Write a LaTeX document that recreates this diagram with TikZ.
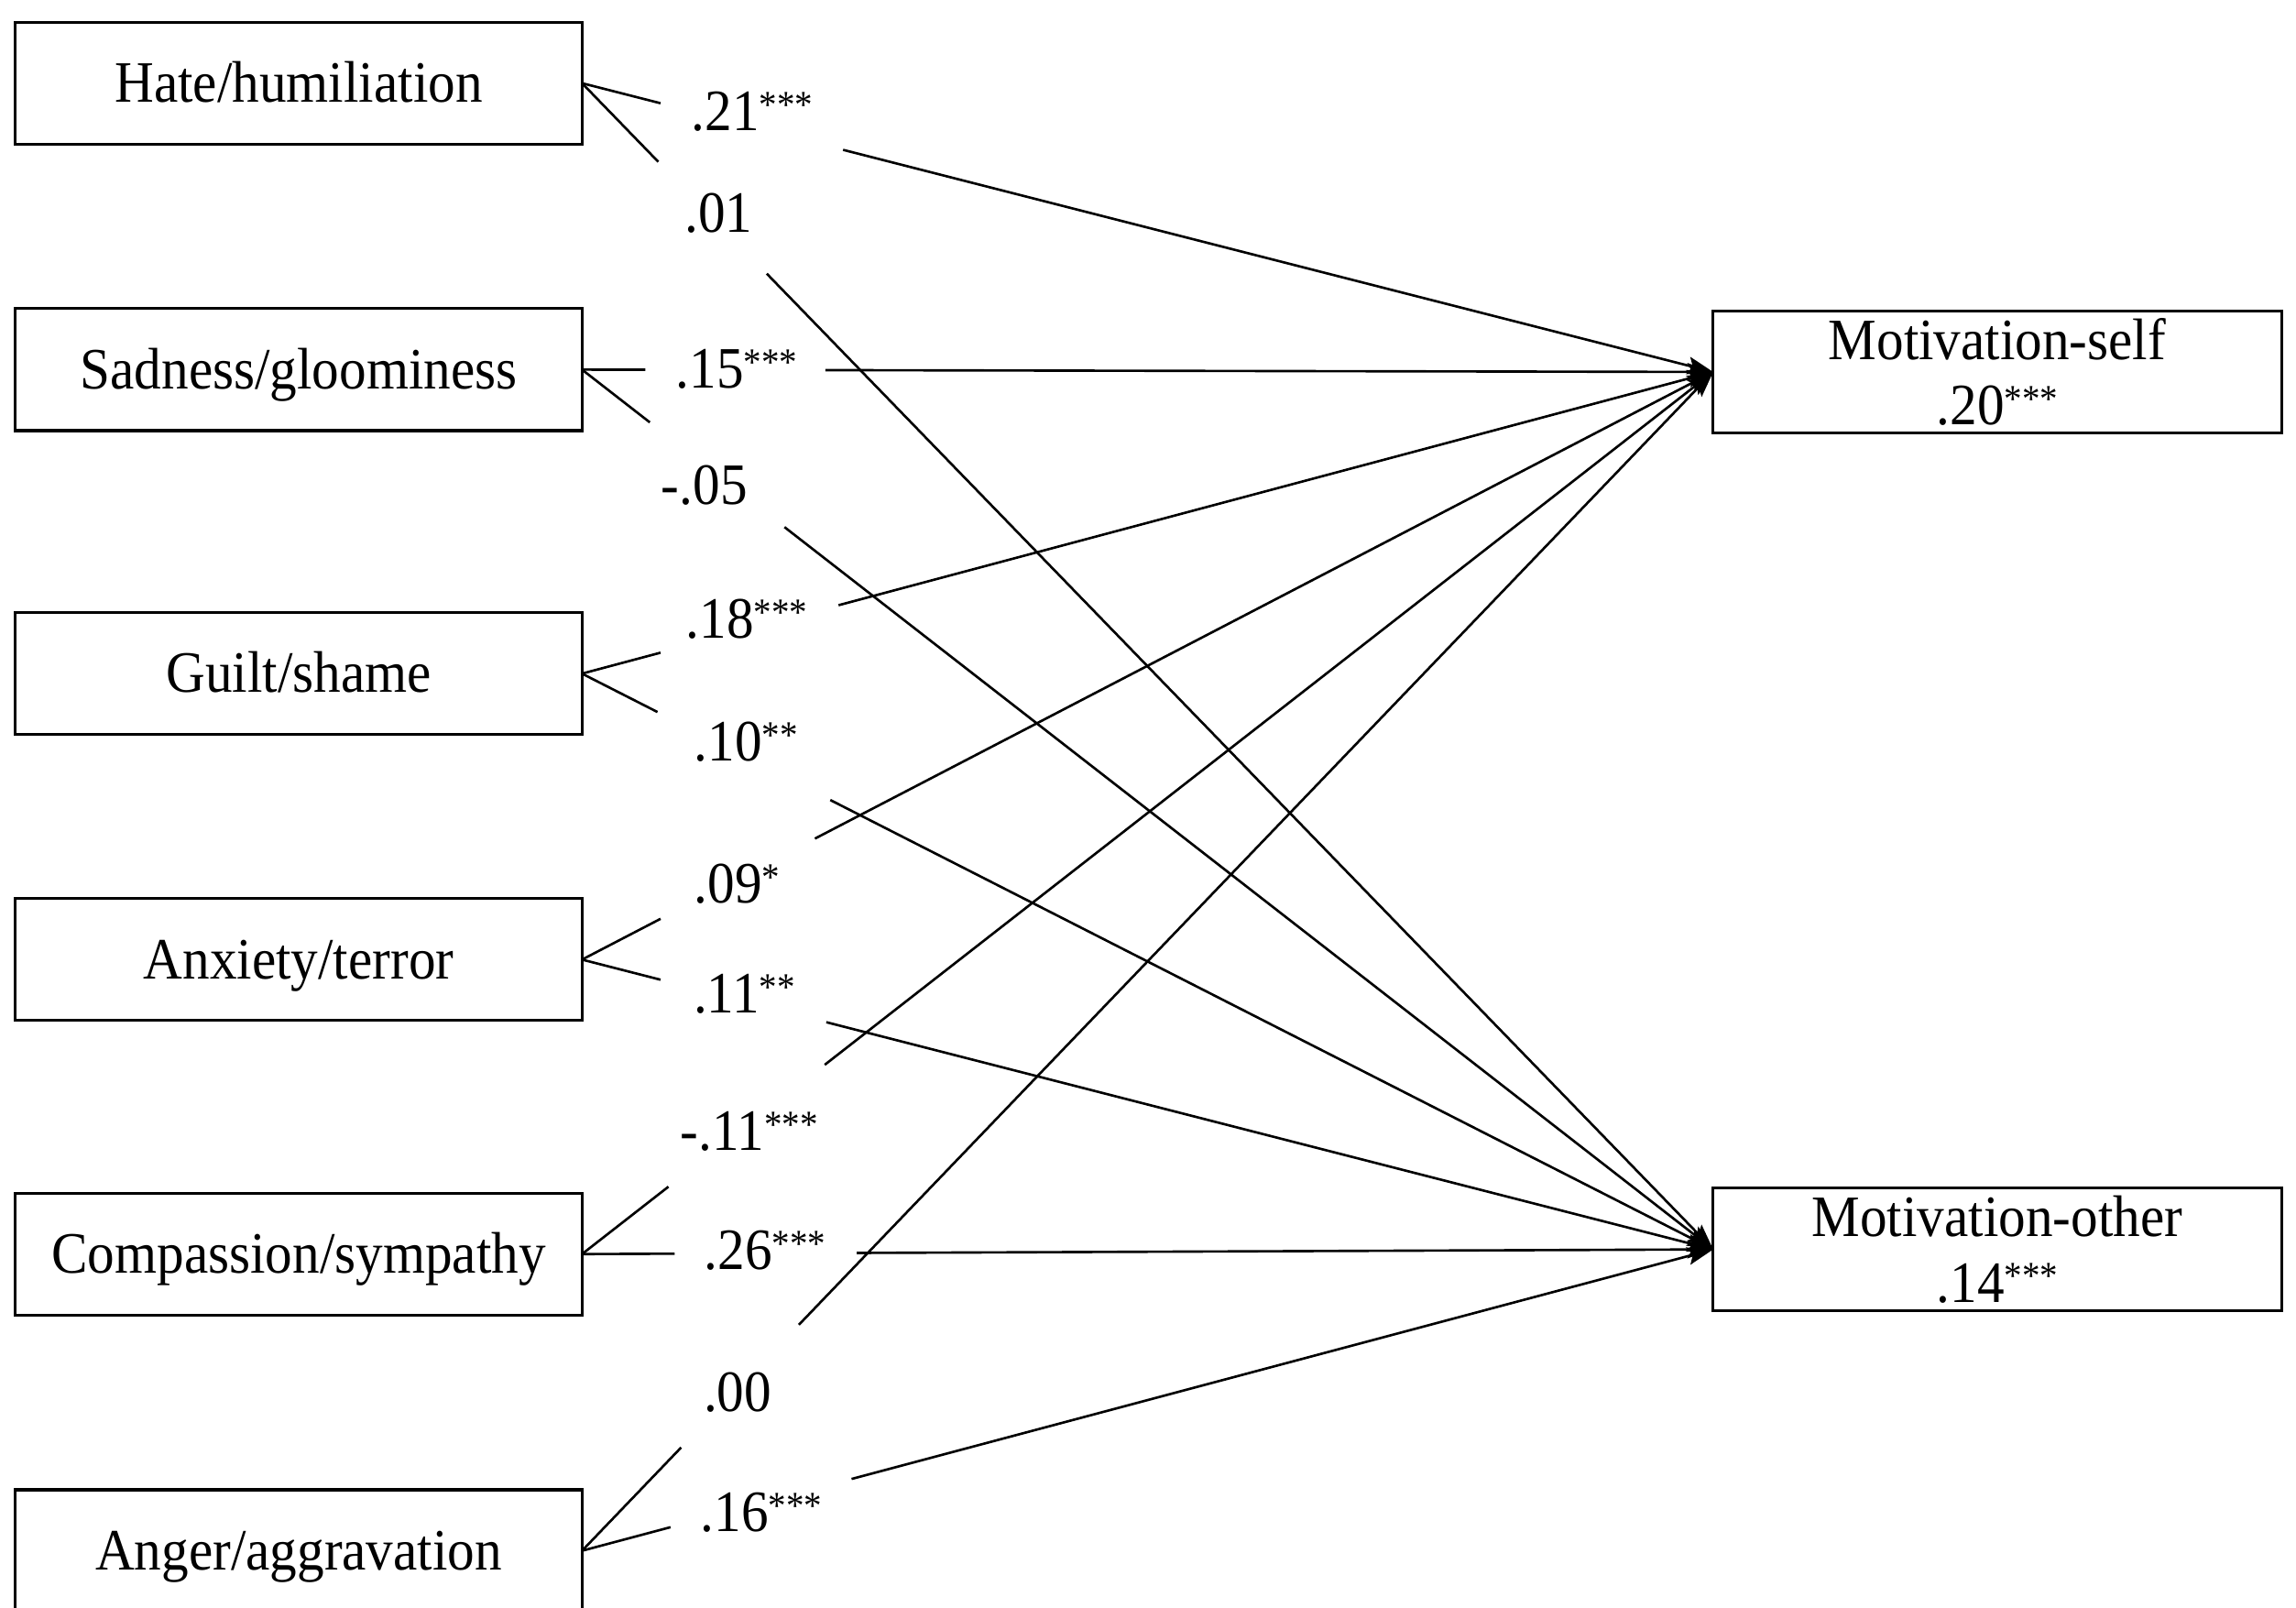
\documentclass[tikz,border=0pt]{standalone}
\usepackage{fontspec}
\setmainfont[FakeStretch=0.925]{Liberation Serif}
\usetikzlibrary{arrows.meta,calc}
\newcommand\sigstars[1]{\raisebox{4.0pt}{\fontsize{12}{12}\selectfont #1}}
\newcommand\gapline[4]{%
  \draw[link] (#1.east) -- ($(#1.east)!#3!(#2.west)$);
  \draw[arr] ($(#1.east)!#4!(#2.west)$) -- (#2.west);}
\begin{document}
\begin{tikzpicture}[x=0.0159821cm, y=-0.0159821cm,
  every node/.style={font=\fontsize{18.2}{20.3}\selectfont},
  srcbox/.style={draw, line width=0.9pt, minimum width=6.182cm, minimum height=1.33cm,
    inner sep=0pt, outer sep=0pt, text height=11.8pt, text depth=0pt},
  tgtbox/.style={draw, line width=0.9pt, minimum width=6.20cm, minimum height=1.336cm,
    inner sep=0pt, outer sep=0pt, align=center},
  coef/.style={anchor=base, inner sep=0pt},
  link/.style={line width=0.75pt},
  arr/.style={link, -{Stealth[length=8pt,width=5.5pt,inset=1.5pt]}}]
\useasboundingbox (0,0) rectangle (1568,1097.5);

% source boxes
\node[srcbox] (hate)  at (204,56.8)   {Hate/humiliation};
\node[srcbox] (sad)   at (204,252.4)  {Sadness/gloominess};
\node[srcbox] (guilt) at (204,460)    {Guilt/shame};
\node[srcbox] (anx)   at (204,655.3)  {Anxiety/terror};
\node[srcbox] (comp)  at (204,856.4)  {Compassion/sympathy};
\node[srcbox] (anger) at (204,1059)   {Anger/aggravation};

% target boxes
\node[tgtbox] (mself)  at (1364,254)   {Motivation-self\\.20\sigstars{***}};
\node[tgtbox] (mother) at (1364,853.2) {Motivation-other\\.14\sigstars{***}};

% connectors (interrupted where the coefficients sit)
\gapline{hate}{mself}{0.0694}{0.2308}
\gapline{hate}{mother}{0.0674}{0.1633}
\gapline{sad}{mself}{0.0559}{0.2151}
\gapline{sad}{mother}{0.0599}{0.1790}
\gapline{guilt}{mself}{0.0694}{0.2268}
\gapline{guilt}{mother}{0.0667}{0.2195}
\gapline{anx}{mself}{0.0694}{0.2059}
\gapline{anx}{mother}{0.0694}{0.2160}
\gapline{comp}{mself}{0.0764}{0.2146}
\gapline{comp}{mother}{0.0818}{0.2429}
\gapline{anger}{mself}{0.0876}{0.1917}
\gapline{anger}{mother}{0.0783}{0.2383}

% coefficients
\node[coef] (c1)  at (513.7,89.3)  {.21\sigstars{***}};
\node[coef] (c2)  at (490.7,158.5) {.01};
\node[coef] (c3)  at (503.2,264.8) {.15\sigstars{***}};
\node[coef] (c4)  at (481,344.2)   {-.05};
\node[coef] (c5)  at (510,436)     {.18\sigstars{***}};
\node[coef] (c6)  at (509.5,519.4) {.10\sigstars{**}};
\node[coef] (c7)  at (503.3,616.4) {.09\sigstars{*}};
\node[coef] (c8)  at (508.4,691.5) {.11\sigstars{**}};
\node[coef] (c9)  at (511.6,785.3) {-.11\sigstars{***}};
\node[coef] (c10) at (522.5,866.7) {.26\sigstars{***}};
\node[coef] (c11) at (503.8,963.7) {.00};
\node[coef] (c12) at (519.9,1046)  {.16\sigstars{***}};
\end{tikzpicture}
\end{document}
